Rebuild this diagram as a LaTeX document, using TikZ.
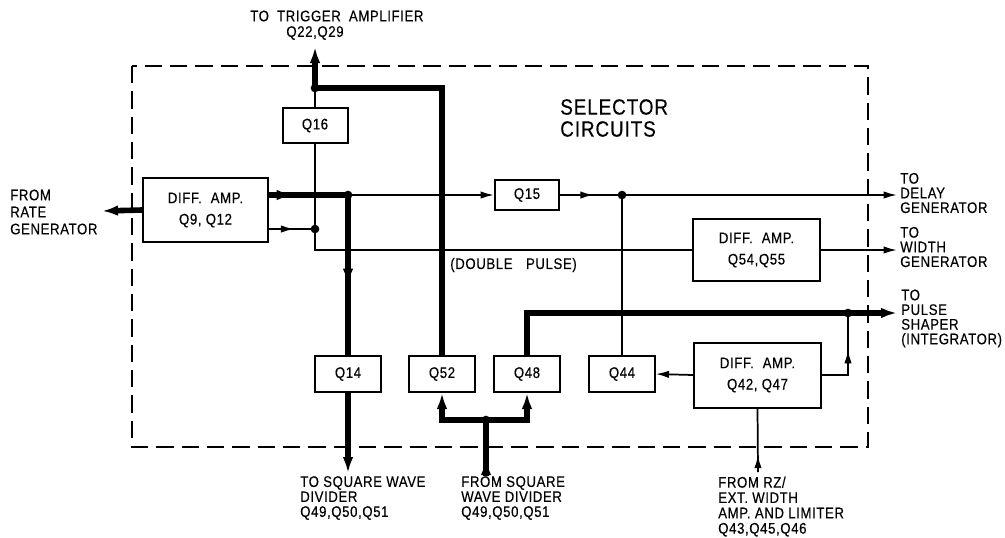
\documentclass[tikz,border=0pt]{standalone}
\usepackage{fontspec}
\setmainfont{Liberation Sans}[LetterSpace=4,FakeStretch=0.86,FakeBold=0.3]
\usetikzlibrary{arrows.meta,decorations.markings,calc}
\begin{document}
\begin{tikzpicture}[x=0.75pt,y=-0.75pt,
  box/.style={draw,line width=1.5pt,inner sep=0pt,align=center,font=\fontsize{11.5}{16}\selectfont},
  qbox/.style={box,minimum width=49pt,minimum height=27pt},
  dabox/.style={box,minimum width=95.25pt,minimum height=47.5pt},
  thinl/.style={line width=1.3pt},
  thickl/.style={line width=4.2pt},
  endS/.style={-{Latex[length=10pt,width=5.5pt]}},
  endT/.style={-{Latex[length=12pt,width=8pt]}},
  midS/.style={postaction={decorate,decoration={markings,mark=at position #1 with {\arrow{Latex[length=10pt,width=5.5pt]}}}}},
  midT/.style={postaction={decorate,decoration={markings,mark=at position #1 with {\arrow{Latex[length=12pt,width=8pt]}}}}},
  dot/.style={circle,fill,inner sep=0pt,minimum size=6.5pt},
  lab/.style={inner sep=0pt,align=left,font=\fontsize{11.5}{11}\selectfont},
]
\useasboundingbox (0,0) rectangle (1005,537);
% enclosure
\draw[line width=1.5pt,dash pattern=on 13pt off 6pt] (132,66) rectangle (868,447);

% blocks
\node[box,minimum width=93.75pt,minimum height=48pt] (da1) at (205.5,210) {DIFF.\hspace{0.3em} AMP.\\Q9, Q12};
\node[box,minimum width=48.75pt,minimum height=26.25pt] (q16) at (315,125.5) {Q16};
\node[box,minimum width=48pt,minimum height=22.5pt] (q15) at (527,195) {Q15};
\node[qbox] (q14) at (348,374) {Q14};
\node[qbox] (q52) at (442,374) {Q52};
\node[qbox] (q48) at (527,374) {Q48};
\node[qbox] (q44) at (622,374) {Q44};
\node[dabox,minimum height=46.5pt] (da2) at (756.5,250) {DIFF.\hspace{0.3em} AMP.\\Q54,Q55};
\node[dabox,minimum height=48.75pt] (da3) at (757.5,375) {DIFF.\hspace{0.3em} AMP.\\Q42, Q47};

% junctions and free ends
\coordinate (j1) at (348,195);
\coordinate (j2) at (315,229);
\coordinate (j4) at (315,88);
\coordinate (j5) at (622,195);
\coordinate (j6) at (848,313);
\coordinate (j7) at (486,420);
\coordinate (in1) at (102,211);
\coordinate (top) at (315,47);
\coordinate (sqout) at (348,473);
\coordinate (sqin) at (486,476);
\coordinate (out1) at (897,195);
\coordinate (out2) at (897,250);
\coordinate (out3) at (897,313);
\coordinate (rzin) at (758,472);

% connectors
\draw[thickl,endT] (da1.west) -- (in1);
\draw[thickl,midT=0.3] (da1.east |- j1) -- (j1);
\draw[thinl,endS] (j1) -- (q15.west);
\draw[thickl,midT=0.56] (j1) -- (q14.north);
\draw[thickl,endT] (q14.south) -- (sqout);
\draw[thinl,midS=0.55] (da1.east |- j2) -- (j2);
\draw[thinl] (q16.south) |- (da2.west);
\draw[thinl] (q16.north) -- (j4);
\draw[thickl,endT] (j4) -- (top);
\draw[thickl] (j4) -| (q52.north);
\draw[thinl,midS=0.1,endS] (q15.east) -- (out1);
\draw[thinl] (q44.north) -- (j5);
\draw[thinl,endS] (da2.east) -- (out2);
\draw[thickl,endT] (q48.north) |- (out3);
\draw[thinl,midS=0.58] (da3.east) -| (j6);
\draw[thinl,endS] (da3.west) -- (q44.east);
\draw[thinl,midS=0.27] (rzin) -- (da3.south);
\draw[thickl,midT=0.3] (sqin) -- (j7);
\draw[thickl,endT] (j7) -| (q52.south);
\draw[thickl,endT] (j7) -| (q48.south);

% dots
\node[dot] (d1) at (j1) {};
\node[dot] (d2) at (j2) {};
\node[dot] (d4) at (j4) {};
\node[dot] (d5) at (j5) {};
\node[dot] (d6) at (j6) {};
\node[dot] (d7) at (j7) {};

% labels
\node[lab,anchor=west,font=\fontsize{11.5}{12.75}\selectfont] (lrate) at (10,212) {FROM\\RATE\\GENERATOR};
\node[lab,anchor=west] (ltrig) at (250,16) {TO\hspace{0.25em} TRIGGER\hspace{0.25em} AMPLIFIER};
\node[lab] (ltrig2) at (315,33) {Q22,Q29};
\node[lab,anchor=west,font=\fontsize{16.5}{16.5}\selectfont] (lsel) at (560,118) {SELECTOR\\CIRCUITS};
\node[lab,anchor=west] (ldelay) at (900,193) {TO\\DELAY\\GENERATOR};
\node[lab,anchor=west] (lwidth) at (900,247) {TO\\WIDTH\\GENERATOR};
\node[lab,anchor=west] (lpulse) at (901,318.5) {TO\\PULSE\\SHAPER\\(INTEGRATOR)};
\node[lab,anchor=west] (ldouble) at (450,265) {(DOUBLE\hspace{0.6em} PULSE)};
\node[lab,anchor=west,font=\fontsize{11.5}{11.25}\selectfont] (lsqout) at (300,498) {TO SQUARE WAVE\\DIVIDER\\Q49,Q50,Q51};
\node[lab,anchor=west,font=\fontsize{11.5}{11.25}\selectfont] (lsqin) at (461,498) {FROM SQUARE\\WAVE DIVIDER\\Q49,Q50,Q51};
\node[lab,anchor=west,font=\fontsize{11.5}{11.5}\selectfont] (lrz) at (718,506.5) {FROM RZ/\\EXT. WIDTH\\AMP. AND LIMITER\\Q43,Q45,Q46};
\end{tikzpicture}
\end{document}
